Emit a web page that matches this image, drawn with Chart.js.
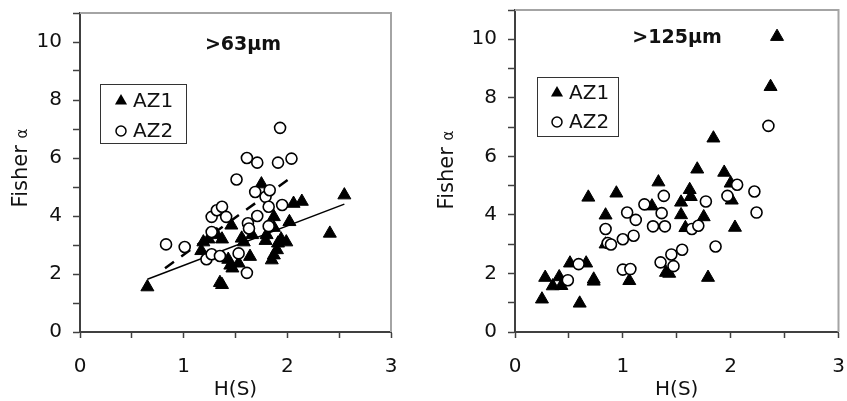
<!DOCTYPE html>
<html>
<head>
<meta charset="utf-8">
<script src="https://cdn.jsdelivr.net/npm/chart.js@4.4.1/dist/chart.umd.min.js"></script>
<style>
  body { margin: 0; background: #fff; }
  #wrap { position: relative; width: 847px; height: 401px; }
  canvas { position: absolute; top: 0; }
</style>
</head>
<body>
<div id="wrap">
  <canvas id="c63" width="420" height="401" style="left:0"></canvas>
  <canvas id="c125" width="427" height="401" style="left:420px"></canvas>
</div>
<script>
// data: [H(S), Fisher alpha]
const az1_63 = [[0.65,1.55],[1.35,1.70],[1.37,1.63],[1.17,2.80],[1.19,3.10],[1.24,3.20],[1.32,3.35],[1.37,3.20],[1.46,3.68],
  [1.43,2.50],[1.45,2.30],[1.47,2.20],[1.53,2.37],[1.56,3.23],[1.58,3.10],[1.64,2.60],[1.66,3.35],[1.75,5.10],[1.79,3.15],
  [1.80,3.35],[1.87,3.97],[1.87,3.60],[1.85,2.48],[1.87,2.65],[1.90,2.83],[1.91,3.06],[1.94,3.20],[1.99,3.10],[2.02,3.80],
  [2.06,4.43],[2.14,4.50],[2.41,3.40],[2.55,4.72]];
const az2_63 = [[0.83,3.02],[1.01,2.93],[1.22,2.51],[1.27,2.68],[1.35,2.62],[1.27,3.45],[1.27,3.97],[1.32,4.20],[1.37,4.32],
  [1.41,3.97],[1.51,5.26],[1.53,2.71],[1.61,2.04],[1.61,6.00],[1.71,5.84],[1.62,3.75],[1.63,3.57],[1.71,4.00],[1.69,4.83],
  [1.79,4.66],[1.83,4.89],[1.82,4.32],[1.82,3.65],[1.91,5.84],[1.93,7.04],[1.95,4.38],[2.04,5.98]];
// regression lines (end points)
const fit1_63 = [[0.65,1.82],[2.55,4.41]];
const fit2_63 = [[0.82,2.20],[2.01,5.26]];

const az1_125 = [[0.25,1.12],[0.28,1.86],[0.35,1.57],[0.41,1.88],[0.43,1.58],[0.51,2.35],[0.60,0.98],[0.66,2.35],[0.73,1.80],
  [0.73,1.73],[0.68,4.60],[0.84,3.99],[0.84,3.00],[0.94,4.74],[1.06,1.75],[1.27,4.30],[1.33,5.12],[1.40,2.03],[1.43,2.00],
  [1.54,4.43],[1.54,4.00],[1.58,3.56],[1.62,4.86],[1.63,4.62],[1.69,5.56],[1.75,3.93],[1.79,1.86],[1.84,6.62],[1.94,5.45],
  [2.00,5.08],[2.01,4.50],[2.04,3.57],[2.37,8.38],[2.43,10.09]];
const az2_125 = [[0.49,1.77],[0.59,2.32],[0.84,3.52],[0.86,3.04],[0.89,2.99],[1.00,3.17],[1.00,2.13],[1.07,2.15],[1.04,4.08],
  [1.10,3.29],[1.12,3.83],[1.20,4.36],[1.28,3.61],[1.36,4.06],[1.38,4.65],[1.39,3.61],[1.35,2.38],[1.45,2.65],[1.47,2.25],
  [1.55,2.81],[1.64,3.52],[1.70,3.63],[1.77,4.46],[1.86,2.92],[1.97,4.65],[2.06,5.03],[2.22,4.80],[2.24,4.08],[2.35,7.04]];

const seriesNames = ["AZ1", "AZ2"];
const xTickLabels = ["0", "1", "2", "3"];
const yTickLabels = ["0", "2", "4", "6", "8", "10"];
const xTitle = "H(S)";
const yTitle = "Fisher";
const yTitleSym = "\u03b1";

const FONT = "'DejaVu Sans', sans-serif";
Chart.defaults.font.family = FONT;
Chart.defaults.color = "#111";

const pts = arr => arr.map(p => ({ x: p[0], y: p[1] }));

// draws the panel label, axis titles, legend box and the grey top/right frame
const decor = {
  id: "decor",
  afterDraw(chart, args, o) {
    const ctx = chart.ctx, a = chart.chartArea;
    ctx.save();
    // grey frame
    ctx.strokeStyle = "#a4a4a4";
    ctx.lineWidth = 2;
    ctx.beginPath();
    ctx.moveTo(a.left, a.top);
    ctx.lineTo(a.right, a.top);
    ctx.lineTo(a.right, a.bottom);
    ctx.stroke();

    ctx.fillStyle = "#111";
    // panel label
    ctx.font = "bold 19px " + FONT;
    ctx.textAlign = "center";
    ctx.textBaseline = "alphabetic";
    ctx.fillText(o.label, o.labelX, o.labelY);

    // x title
    ctx.font = "20px " + FONT;
    ctx.fillText(xTitle, (a.left + a.right) / 2, 395);

    // y title, rotated
    ctx.save();
    ctx.translate(o.yTitleX, o.yTitleY);
    ctx.rotate(-Math.PI / 2);
    ctx.font = "21px " + FONT;
    const w1 = ctx.measureText(yTitle + " ").width;
    ctx.font = "15px " + FONT;
    const w2 = ctx.measureText(yTitleSym).width;
    ctx.textAlign = "left";
    ctx.font = "21px " + FONT;
    ctx.fillText(yTitle + " ", -(w1 + w2) / 2, 0);
    ctx.font = "15px " + FONT;
    ctx.fillText(yTitleSym, -(w1 + w2) / 2 + w1, 0);
    ctx.restore();

    // legend box
    const b = o.box;
    ctx.fillStyle = "#fff";
    ctx.fillRect(b[0], b[1], b[2], b[3]);
    ctx.strokeStyle = "#333";
    ctx.lineWidth = 1;
    ctx.strokeRect(b[0] + 0.5, b[1] + 0.5, b[2], b[3]);
    // triangle
    const mx = o.markX, r = 7;
    ctx.fillStyle = "#000";
    ctx.beginPath();
    ctx.moveTo(mx, o.rows[0] - r);
    ctx.lineTo(mx + r * Math.sin(2 * Math.PI / 3), o.rows[0] + r / 2);
    ctx.lineTo(mx - r * Math.sin(2 * Math.PI / 3), o.rows[0] + r / 2);
    ctx.closePath();
    ctx.fill();
    // circle
    ctx.beginPath();
    ctx.arc(mx, o.rows[1], 5, 0, 2 * Math.PI);
    ctx.strokeStyle = "#000";
    ctx.lineWidth = 1.5;
    ctx.stroke();
    ctx.fillStyle = "#111";
    ctx.font = "20px " + FONT;
    ctx.textAlign = "left";
    ctx.textBaseline = "middle";
    ctx.fillText(seriesNames[0], o.textX, o.rows[0] + 1);
    ctx.fillText(seriesNames[1], o.textX, o.rows[1] + 1);
    ctx.restore();
  }
};

function makePanel(id, az1, az2, fits, pad, yAxisW, deco) {
  const datasets = [
    { label: seriesNames[0], data: pts(az1), pointStyle: "triangle", pointRadius: 7.5,
      backgroundColor: "#000", borderColor: "#000", borderWidth: 1, order: 2 },
    { label: seriesNames[1], data: pts(az2), pointStyle: "circle", pointRadius: 5.5,
      backgroundColor: "#fff", borderColor: "#000", borderWidth: 1.6, order: 1 }
  ];
  fits.forEach(f => datasets.push({
    type: "line", data: pts(f.data), showLine: true, pointRadius: 0,
    borderColor: "#000", borderWidth: f.width, borderDash: f.dash, fill: false, order: 3
  }));

  new Chart(document.getElementById(id), {
    type: "scatter",
    data: { datasets },
    options: {
      responsive: false,
      animation: false,
      events: [],
      layout: { padding: pad },
      plugins: { legend: { display: false }, tooltip: { enabled: false }, decor: deco },
      scales: {
        x: {
          type: "linear", min: 0, max: 3,
          ticks: {
            stepSize: 0.5, autoSkip: false, maxRotation: 0, padding: 17,
            font: { size: 20 }, color: "#111",
            callback: v => xTickLabels.includes(String(v)) ? String(v) : ""
          },
          grid: { drawOnChartArea: false, drawTicks: true, tickLength: 6, tickColor: "#404040", tickWidth: 1.5 },
          border: { display: true, color: "#404040", width: 2 },
          afterFit: s => { s.height = 69; s.paddingLeft = 0; s.paddingRight = 0; }
        },
        y: {
          type: "linear", min: 0, max: 11,
          ticks: {
            stepSize: 1, autoSkip: false, padding: 11,
            font: { size: 20 }, color: "#111",
            callback: v => yTickLabels.includes(String(v)) ? String(v) : ""
          },
          grid: { drawOnChartArea: false, drawTicks: true, tickLength: 7, tickColor: "#404040", tickWidth: 1.5 },
          border: { display: true, color: "#404040", width: 2 },
          afterFit: s => { s.width = yAxisW; s.paddingTop = 0; s.paddingBottom = 0; }
        }
      }
    },
    plugins: [decor]
  });
}

makePanel("c63", az1_63, az2_63,
  [{ data: fit1_63, width: 1.5, dash: [] }, { data: fit2_63, width: 2.5, dash: [11, 9] }],
  { left: 0, right: 29, top: 13, bottom: 0 }, 80,
  { label: ">63\u00b5m", labelX: 243, labelY: 50, yTitleX: 27, yTitleY: 168,
    box: [100, 84, 86, 59], rows: [101, 131], markX: 121, textX: 133 });

makePanel("c125", az1_125, az2_125, [],
  { left: 0, right: 6, top: 10, bottom: 0 }, 95,
  { label: ">125\u00b5m", labelX: 257, labelY: 43, yTitleX: 33, yTitleY: 170,
    box: [117, 77, 81, 59], rows: [93, 122], markX: 137, textX: 149 });
</script>
</body>
</html>
